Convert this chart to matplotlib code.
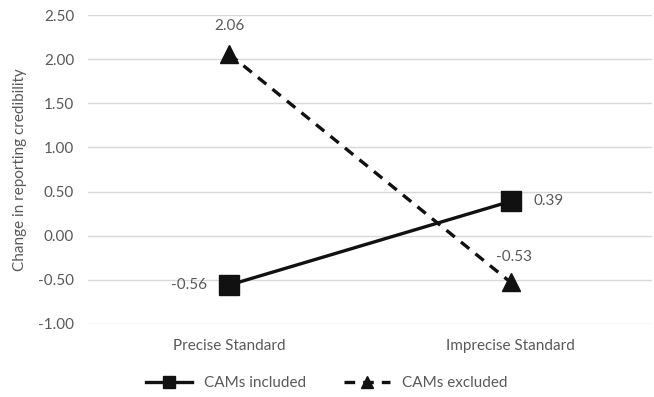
import matplotlib
matplotlib.use("Agg")
import matplotlib.pyplot as plt

categories = ["Precise Standard", "Imprecise Standard"]
cams_included = [-0.56, 0.39]
cams_excluded = [2.06, -0.53]
yticks = [-1.0, -0.5, 0.0, 0.5, 1.0, 1.5, 2.0, 2.5]

plt.rcParams['font.family'] = ['Lato', 'DejaVu Sans']
gray = "#595959"
fs = 11

fig = plt.figure(figsize=(6.54, 3.97), dpi=100)
ax = fig.add_axes([0.1346, 0.184, 0.862, 0.778])

x = [0.5, 1.5]
ax.plot(x, cams_included, color="#111111", lw=2.4, marker="s", ms=14, label="CAMs included")
ax.plot(x, cams_excluded, color="#111111", lw=2.4, ls=(0, (3.2, 2.4)), marker="^", ms=13, label="CAMs excluded")

ax.set_xlim(0, 2)
ax.set_ylim(-1.0, 2.5)
ax.set_yticks(yticks)
ax.set_yticklabels([f"{v:.2f}" for v in yticks])
ax.set_xticks(x)
ax.set_xticklabels(categories)
ax.tick_params(axis="both", length=0, colors=gray, labelsize=fs)
ax.tick_params(axis="x", pad=11)
ax.tick_params(axis="y", pad=10)
ax.grid(axis="y", color="#d9d9d9", lw=1)
ax.set_axisbelow(True)
for s in ax.spines.values():
    s.set_visible(False)

ax.set_ylabel("Change in reporting credibility", color=gray, fontsize=fs, labelpad=8)

ax.annotate(f"{cams_excluded[0]:.2f}", (x[0], cams_excluded[0]), xytext=(0, 15), textcoords="offset points",
            ha="center", va="bottom", color=gray, fontsize=fs)
ax.annotate(f"{cams_excluded[1]:.2f}", (x[1], cams_excluded[1]), xytext=(2, 13), textcoords="offset points",
            ha="center", va="bottom", color=gray, fontsize=fs)
ax.annotate(f"{cams_included[0]:.2f}", (x[0], cams_included[0]), xytext=(-16, 0), textcoords="offset points",
            ha="right", va="center", color=gray, fontsize=fs)
ax.annotate(f"{cams_included[1]:.2f}", (x[1], cams_included[1]), xytext=(16, 0), textcoords="offset points",
            ha="left", va="center", color=gray, fontsize=fs)

leg = fig.legend(loc="center", bbox_to_anchor=(0.5, 0.035), ncol=2, frameon=False,
                 fontsize=fs, labelcolor=gray, markerscale=0.65, handlelength=3, columnspacing=2.5)

fig.savefig("out.png", dpi=100)
